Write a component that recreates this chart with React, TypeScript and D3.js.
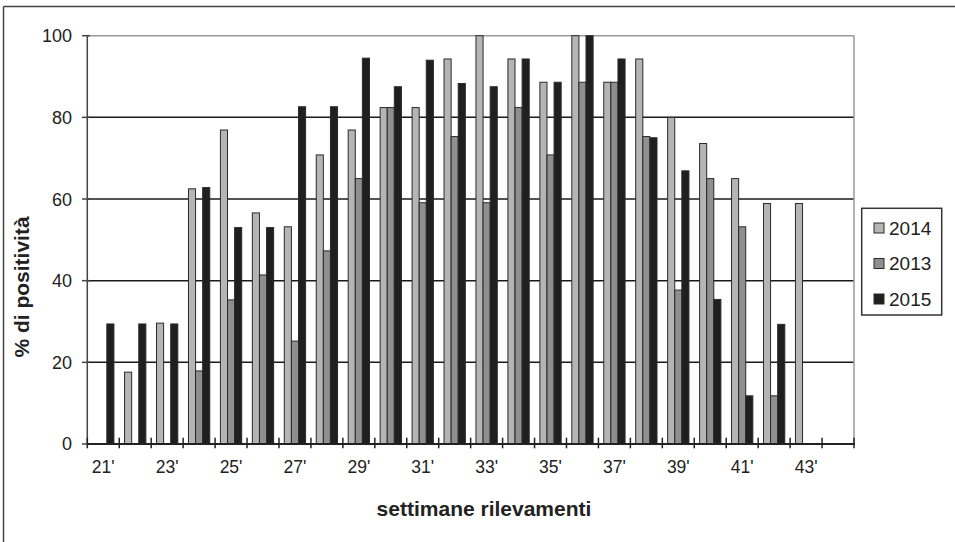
import React from "react";
import * as d3 from "d3";

const weeks = [21, 22, 23, 24, 25, 26, 27, 28, 29, 30, 31, 32, 33, 34, 35, 36, 37, 38, 39, 40, 41, 42, 43, 44];
const seriesNames = ["2014", "2013", "2015"];
const s2014 = [0, 17.6, 29.6, 62.5, 76.9, 56.6, 53.2, 70.8, 76.9, 82.4, 82.4, 94.3, 100, 94.3, 88.6, 100, 88.6, 94.3, 80, 73.6, 65, 58.9, 58.9, 0];
const s2013 = [0, 0, 0, 17.9, 35.3, 41.4, 25.2, 47.3, 65, 82.4, 59.1, 75.3, 59.1, 82.4, 70.8, 88.6, 88.6, 75.3, 37.7, 65, 53.2, 11.8, 0, 0];
const s2015 = [29.4, 29.4, 29.4, 62.8, 53, 53, 82.6, 82.6, 94.5, 87.5, 94, 88.3, 87.5, 94.3, 88.6, 100, 94.3, 75, 66.9, 35.4, 11.8, 29.3, 0, 0];
const yTicks = [0, 20, 40, 60, 80, 100];
const tickLabelWeeks = [21, 23, 25, 27, 29, 31, 33, 35, 37, 39, 41, 43];

const colors: Record<string, string> = { "2014": "#b5b5b5", "2013": "#8f8f8f", "2015": "#1f1f1f" };

export default function App() {
  const W = 955, H = 542;
  const left = 87.3, right = 854, top = 35.7, bottom = 444;
  const x0 = d3.scaleBand<number>().domain(weeks).range([left, right]).padding(0);
  const x1 = d3.scaleBand<string>().domain(seriesNames).range([0, x0.bandwidth()]).paddingInner(0).paddingOuter(0.75);
  const y = d3.scaleLinear().domain([0, 100]).range([bottom, top]);
  const data: Record<string, number[]> = { "2014": s2014, "2013": s2013, "2015": s2015 };
  const font = "'Liberation Sans', Arial, sans-serif";
  const boundaries = weeks.map((w) => x0(w)!).concat([right]);

  return (
    <svg width={W} height={H} style={{ position: "absolute", left: 0, top: 0, background: "#fff" }} fontFamily={font}>
      <rect x={0} y={0} width={W} height={H} fill="#fff" />
      {/* outer frame */}
      <line x1={3.5} y1={6.5} x2={W} y2={6.5} stroke="#444" strokeWidth={1.5} />
      <line x1={3.5} y1={6.5} x2={3.5} y2={H} stroke="#444" strokeWidth={1.5} />
      {/* gridlines */}
      {yTicks.filter((t) => t > 0 && t < 100).map((t) => (
        <line key={t} x1={left} x2={right} y1={y(t)} y2={y(t)} stroke="#1a1a1a" strokeWidth={1.5} />
      ))}
      <line x1={left} x2={right} y1={y(100)} y2={y(100)} stroke="#9a9a9a" strokeWidth={1.5} />
      <line x1={right} x2={right} y1={y(100)} y2={bottom} stroke="#9a9a9a" strokeWidth={1.5} />
      {/* bars */}
      {weeks.map((w, i) => (
        <g key={w}>
          {seriesNames.map((s) => {
            const v = data[s][i];
            if (!v) return null;
            return (
              <rect
                key={s}
                x={x0(w)! + x1(s)!}
                y={y(v)}
                width={x1.bandwidth()}
                height={bottom - y(v)}
                fill={colors[s]}
                stroke="#2a2a2a"
                strokeWidth={1}
              />
            );
          })}
        </g>
      ))}
      {/* y axis */}
      <line x1={left} x2={left} y1={top} y2={bottom} stroke="#444" strokeWidth={1.5} />
      {yTicks.map((t) => (
        <g key={t}>
          <line x1={82} x2={90} y1={y(t)} y2={y(t)} stroke="#444" strokeWidth={1.5} />
          <text x={72} y={y(t)} dy="0.36em" textAnchor="end" fontSize={18} fill="#222">
            {t}
          </text>
        </g>
      ))}
      {/* x axis */}
      <line x1={left} x2={right + 1} y1={bottom} y2={bottom} stroke="#222" strokeWidth={2} />
      {boundaries.map((b, i) => (
        <line key={i} x1={b} x2={b} y1={437.7} y2={448.3} stroke="#222" strokeWidth={1.5} />
      ))}
      {tickLabelWeeks.map((w) => (
        <text key={w} x={x0(w)! + x0.bandwidth() / 2} y={472.5} textAnchor="middle" fontSize={17.5} fill="#222">
          {`${w}'`}
        </text>
      ))}
      {/* axis titles */}
      <text x={484} y={516} textAnchor="middle" fontSize={21} fontWeight="bold" fill="#222">
        settimane rilevamenti
      </text>
      <text transform="translate(29,287) rotate(-90)" textAnchor="middle" fontSize={21} fontWeight="bold" fill="#222">
        % di positività
      </text>
      {/* legend */}
      <rect x={861.7} y={208.3} width={80} height={106.7} fill="#fff" stroke="#333" strokeWidth={1.5} />
      {seriesNames.map((s, i) => {
        const cy = 228 + i * 35.5;
        return (
          <g key={s}>
            <rect x={874} y={cy - 5} width={10} height={10} fill={colors[s]} stroke="#2a2a2a" strokeWidth={1} />
            <text x={889} y={cy} dy="0.36em" fontSize={19} fill="#222">
              {s}
            </text>
          </g>
        );
      })}
    </svg>
  );
}
